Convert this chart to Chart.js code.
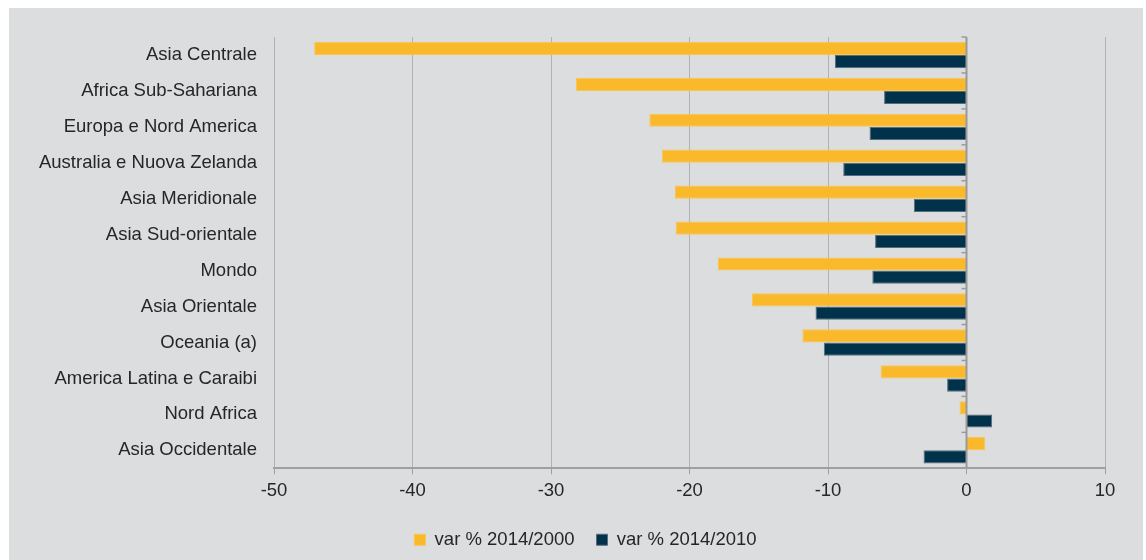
<!DOCTYPE html>
<html>
<head>
<meta charset="utf-8">
<script src="https://cdn.jsdelivr.net/npm/chart.js@4.4.0/dist/chart.umd.min.js"></script>
<style>
  body { margin: 0; background: #ffffff; }
  #wrap { position: absolute; left: 9px; top: 8px; width: 1134px; height: 552px; background: #dcdddf; }
</style>
</head>
<body>
<div id="wrap"><canvas id="chart"></canvas></div>
<script>
const regions = [
    "Asia Centrale", "Africa Sub-Sahariana", "Europa e Nord America",
    "Australia e Nuova Zelanda", "Asia Meridionale", "Asia Sud-orientale",
    "Mondo", "Asia Orientale", "Oceania (a)", "America Latina e Caraibi",
    "Nord Africa", "Asia Occidentale"
];
const var2000 = [-47.1, -28.2, -22.9, -22.0, -21.05, -21.0, -17.95, -15.5, -11.85, -6.2, -0.5, 1.35];
const var2010 = [-9.5, -5.95, -7.0, -8.9, -3.8, -6.6, -6.8, -10.9, -10.3, -1.4, 1.85, -3.1];
const xMin = -50;
const xMax = 10;
const xStep = 10;

const textColor = "#262626";
const font = { family: "'Liberation Sans', Arial, sans-serif", size: 18.5 };

// piccoli segni di tacca sull'asse dello zero, tra una categoria e l'altra
const zeroTicks = {
    id: "zeroTicks",
    afterDatasetsDraw(chart) {
        const x = chart.scales.x;
        const y = chart.scales.y;
        const x0 = x.getPixelForValue(0);
        const c = chart.ctx;
        c.save();
        c.strokeStyle = "#9a9a9a";
        c.lineWidth = 2;
        c.beginPath();
        c.moveTo(x0, y.top);
        c.lineTo(x0, y.bottom);
        c.stroke();
        c.lineWidth = 1.5;
        const band = (y.getPixelForValue(1) - y.getPixelForValue(0));
        for (let i = 0; i < regions.length; i++) {
            const yy = y.getPixelForValue(i) - band / 2;
            c.beginPath();
            c.moveTo(x0 - 5, yy);
            c.lineTo(x0, yy);
            c.stroke();
        }
        c.restore();
    }
};

const ctx = document.getElementById("chart").getContext("2d");
const chart = new Chart(ctx, {
    type: "bar",
    data: {
        labels: regions,
        datasets: [{
            label: "var % 2014/2000",
            data: var2000,
            backgroundColor: "#fab92b",
            borderColor: "#fbc451",
            borderWidth: 1,
            categoryPercentage: 0.735,
            barPercentage: 1,
        }, {
            label: "var % 2014/2010",
            data: var2010,
            backgroundColor: "#00324b",
            borderColor: "#556b7b",
            borderWidth: 1,
            categoryPercentage: 0.735,
            barPercentage: 1,
        }],
    },
    options: {
        indexAxis: "y",
        responsive: true,
        maintainAspectRatio: false,
        animation: false,
        layout: { padding: { left: 19, right: 0, top: 29, bottom: 1 } },
        scales: {
            x: {
                min: xMin,
                max: xMax,
                ticks: { stepSize: xStep, color: textColor, font: font, padding: 6 },
                grid: {
                    color: "#b2b2b2",
                    lineWidth: 1,
                    tickLength: 6,
                    tickColor: "#a0a0a0",
                },
                border: { color: "#a0a0a0", width: 2 },
            },
            y: {
                grid: { display: false, drawTicks: false },
                border: { display: false },
                ticks: { color: textColor, font: font, padding: 17 },
                afterFit(scale) { scale.width = 246; },
            },
            // asse vuoto a destra, solo per lasciare il margine
            yRight: {
                position: "right",
                grid: { display: false, drawTicks: false },
                border: { display: false },
                ticks: { display: false },
                afterFit(scale) { scale.width = 38; },
            },
        },
        plugins: {
            legend: {
                position: "bottom",
                labels: {
                    color: textColor,
                    font: font,
                    boxWidth: 11,
                    boxHeight: 11,
                    padding: 22,
                },
            },
            tooltip: { enabled: false },
        },
    },
    plugins: [zeroTicks],
});
</script>
</body>
</html>
